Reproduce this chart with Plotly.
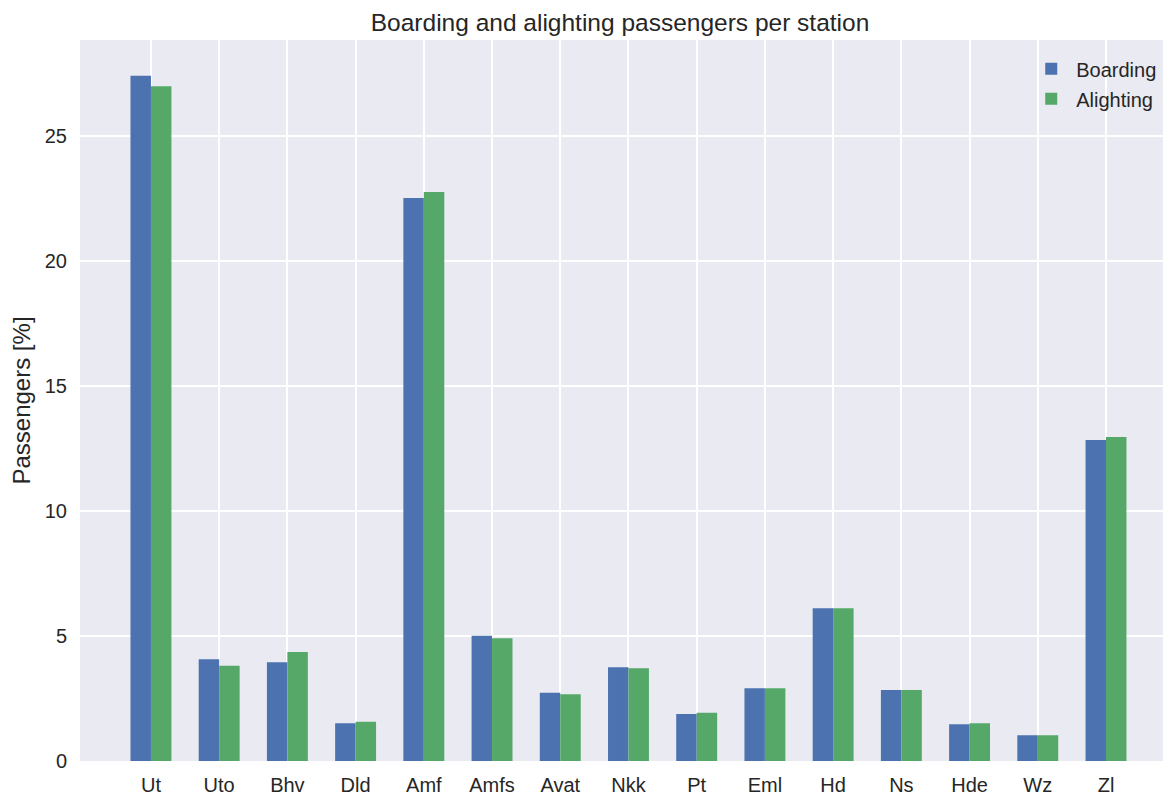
import plotly.graph_objects as go

stations = ["Ut", "Uto", "Bhv", "Dld", "Amf", "Amfs", "Avat", "Nkk", "Pt", "Eml",
            "Hd", "Ns", "Hde", "Wz", "Zl"]
boarding = [27.41, 4.07, 3.95, 1.51, 22.52, 5.01, 2.73, 3.75, 1.88, 2.91,
            6.11, 2.84, 1.47, 1.03, 12.84]
alighting = [26.99, 3.81, 4.36, 1.57, 22.76, 4.91, 2.67, 3.71, 1.93, 2.91,
             6.11, 2.84, 1.51, 1.03, 12.96]

font_family = "Liberation Sans, Arial, sans-serif"
text_color = "#262626"

fig = go.Figure()
fig.add_trace(go.Bar(x=stations, y=boarding, name="Boarding", legendgroup="b",
                     marker=dict(color="#4C72B0", line=dict(width=0))))
fig.add_trace(go.Bar(x=stations, y=alighting, name="Alighting", legendgroup="a",
                     marker=dict(color="#55A868", line=dict(width=0))))

# the page puts the figure 8px in from the top-left corner
fig.update_layout(
    width=1171, height=796,
    margin=dict(l=72, r=0, t=32, b=43),
    barmode="group", bargap=0.4, bargroupgap=0,
    paper_bgcolor="white", plot_bgcolor="#EAEAF2",
    font=dict(family=font_family, size=20, color=text_color),
    title=dict(text="Boarding and alighting passengers per station",
               x=0.4914, xref="paper", xanchor="center",
               y=0.982, yanchor="middle",
               font=dict(size=24.5, color=text_color)),
    legend=dict(x=0.861, y=0.987, xanchor="left", yanchor="top",
                bgcolor="rgba(0,0,0,0)", font=dict(size=20),
                itemwidth=40, tracegroupgap=1),
    showlegend=True,
)
fig.update_xaxes(range=[-1.04, 15.07], showgrid=True, gridcolor="white",
                 gridwidth=1.5, ticks="", zeroline=False, showline=False,
                 automargin=False, ticklabelstandoff=10,
                 tickfont=dict(size=20))
fig.update_yaxes(range=[0, 28.84], tickvals=[0, 5, 10, 15, 20, 25],
                 showgrid=True, gridcolor="white", gridwidth=1.5, ticks="",
                 zeroline=False, showline=False, automargin=False,
                 ticklabelstandoff=12, tickfont=dict(size=20),
                 title=dict(text="Passengers [%]", font=dict(size=24), standoff=10))

fig.write_html("out.html")
